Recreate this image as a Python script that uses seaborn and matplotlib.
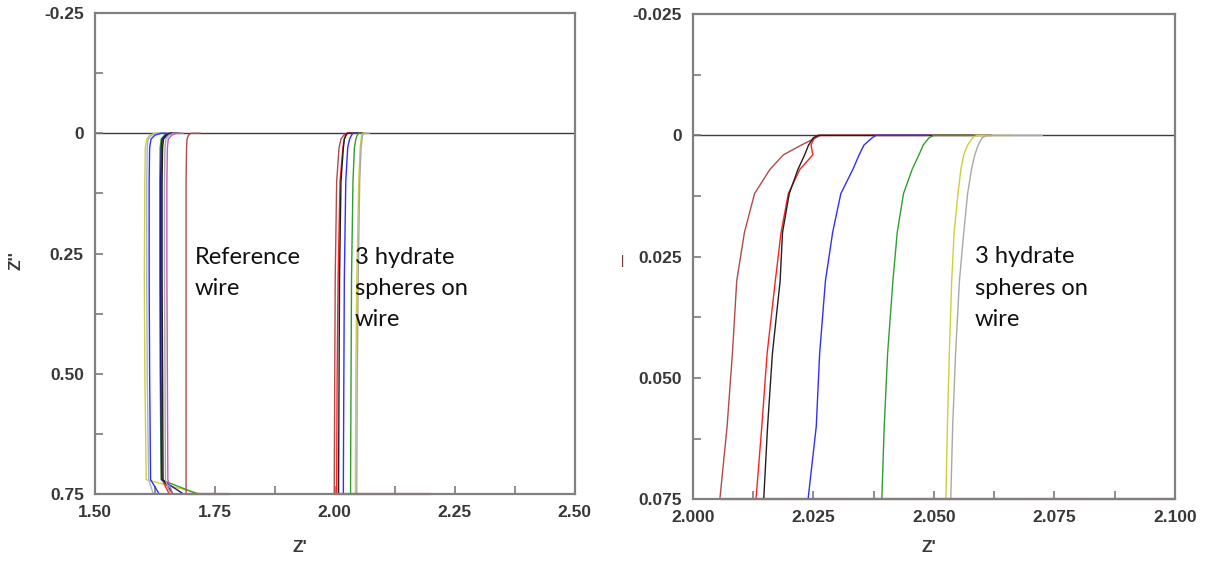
import seaborn as sns
import numpy as np
import pandas as pd
from matplotlib import pyplot as plt
from matplotlib.ticker import MultipleLocator

sns.set_theme(style="white")
plt.rcParams['font.family'] = ['Liberation Sans', 'DejaVu Sans']

# ---- left panel: Nyquist traces, x values at shared y levels ----
left_y = [0.0, 0.0, 0.004, 0.012, 0.03, 0.1, 0.3, 0.5, 0.72, 0.76]

ref_yellow = [1.645, 1.625, 1.614, 1.608, 1.605, 1.604, 1.603, 1.604, 1.607, 1.76]
ref_steel = [1.650, 1.630, 1.618, 1.611, 1.609, 1.608, 1.608, 1.609, 1.612, 1.625]
ref_blue = [1.655, 1.638, 1.625, 1.617, 1.614, 1.613, 1.613, 1.614, 1.616, 1.640]
ref_green = [1.670, 1.655, 1.645, 1.638, 1.636, 1.635, 1.635, 1.636, 1.638, 1.740]
ref_red = [1.675, 1.658, 1.648, 1.641, 1.639, 1.638, 1.638, 1.638, 1.640, 1.660]
ref_navy = [1.672, 1.657, 1.647, 1.640, 1.638, 1.637, 1.637, 1.637, 1.639, 1.700]
ref_black = [1.675, 1.660, 1.650, 1.643, 1.641, 1.640, 1.640, 1.641, 1.642, 1.670]
ref_gray = [1.680, 1.664, 1.654, 1.648, 1.646, 1.645, 1.645, 1.646, 1.647, 1.660]
ref_purple = [1.685, 1.670, 1.660, 1.653, 1.651, 1.650, 1.650, 1.651, 1.652, 1.665]
ref_brown = [1.720, 1.700, 1.695, 1.692, 1.691, 1.690, 1.690, 1.690, 1.690, 1.690]

hyd_brown = [2.060, 2.026, 2.019, 2.013, 2.009, 2.004, 2.001, 2.000, 1.999, 1.999]
hyd_red = [2.060, 2.026, 2.024, 2.020, 2.017, 2.011, 2.007, 2.005, 2.004, 2.004]
hyd_black = [2.058, 2.026, 2.023, 2.020, 2.018, 2.013, 2.010, 2.009, 2.008, 2.008]
hyd_blue = [2.049, 2.038, 2.035, 2.031, 2.027, 2.023, 2.020, 2.019, 2.018, 2.018]
hyd_green = [2.062, 2.050, 2.047, 2.044, 2.041, 2.038, 2.035, 2.034, 2.033, 2.033]
hyd_yellow = [2.066, 2.059, 2.056, 2.055, 2.053, 2.050, 2.046, 2.044, 2.043, 2.043]
hyd_gray = [2.0725, 2.061, 2.058, 2.057, 2.055, 2.052, 2.049, 2.047, 2.046, 2.046]

# traces running along the lower edge
left_tail_brown = [1.690, 1.780]
left_tail_red = [1.999, 2.200]

# ---- right panel: zoom of the hydrate traces ----
right_y = [0.0, 0.0, 0.0005, 0.002, 0.004, 0.007, 0.012, 0.02, 0.03, 0.045, 0.06, 0.075]

z_brown = [2.062, 2.0265, 2.0255, 2.0225, 2.0188, 2.0160, 2.0128, 2.0107, 2.0091, 2.0082, 2.0071, 2.0056]
z_red = [2.062, 2.0260, 2.0252, 2.0245, 2.0249, 2.0222, 2.0198, 2.0183, 2.0171, 2.0154, 2.0143, 2.0131]
z_black = [2.058, 2.0260, 2.0250, 2.0240, 2.0232, 2.0218, 2.0200, 2.0186, 2.0181, 2.0165, 2.0155, 2.0147]
z_blue = [2.049, 2.0380, 2.0372, 2.0355, 2.0345, 2.0332, 2.0307, 2.0290, 2.0275, 2.0263, 2.0256, 2.0239]
z_green = [2.062, 2.0500, 2.0490, 2.0478, 2.0469, 2.0455, 2.0437, 2.0424, 2.0415, 2.0404, 2.0397, 2.0392]
z_yellow = [2.066, 2.0590, 2.0580, 2.0570, 2.0562, 2.0556, 2.0550, 2.0542, 2.0537, 2.0532, 2.0528, 2.0525]
z_gray = [2.0725, 2.0610, 2.0600, 2.0592, 2.0585, 2.0578, 2.0570, 2.0562, 2.0553, 2.0545, 2.0539, 2.0535]
right_tail_brown = [2.0056, 2.100]

left_ticks_y = [-0.25, 0, 0.25, 0.50, 0.75]
left_ticklabels_y = ["-0.25", "0", "0.25", "0.50", "0.75"]
left_ticks_x = [1.50, 1.75, 2.00, 2.25, 2.50]
left_ticklabels_x = ["1.50", "1.75", "2.00", "2.25", "2.50"]
right_ticks_y = [-0.025, 0, 0.025, 0.050, 0.075]
right_ticklabels_y = ["-0.025", "0", "0.025", "0.050", "0.075"]
right_ticks_x = [2.000, 2.025, 2.050, 2.075, 2.100]
right_ticklabels_x = ["2.000", "2.025", "2.050", "2.075", "2.100"]

col = {
    "yellow": "#cfcf3a", "steel": "#a9b3d6", "blue": "#2f2fff", "green": "#2f9f2f",
    "red": "#ff2020", "navy": "#1c1c8c", "black": "#202020", "gray": "#a8a8a8",
    "purple": "#c25ac2", "brown": "#b24a4a",
}


def build(ys, traces):
    rows = []
    for name, (c, xs) in traces.items():
        for x, y in zip(xs, ys):
            rows.append({"x": x, "y": y, "trace": name})
    return pd.DataFrame(rows)


left_traces = {
    "r_yellow": ("yellow", ref_yellow), "r_steel": ("steel", ref_steel),
    "r_blue": ("blue", ref_blue), "r_green": ("green", ref_green),
    "r_red": ("red", ref_red), "r_navy": ("navy", ref_navy),
    "r_black": ("black", ref_black), "r_gray": ("gray", ref_gray),
    "r_purple": ("purple", ref_purple), "r_brown": ("brown", ref_brown),
    "h_brown": ("brown", hyd_brown), "h_red": ("red", hyd_red),
    "h_black": ("black", hyd_black), "h_blue": ("blue", hyd_blue),
    "h_green": ("green", hyd_green), "h_yellow": ("yellow", hyd_yellow),
    "h_gray": ("gray", hyd_gray),
}
right_traces = {
    "z_brown": ("brown", z_brown), "z_red": ("red", z_red),
    "z_black": ("black", z_black), "z_blue": ("blue", z_blue),
    "z_green": ("green", z_green), "z_yellow": ("yellow", z_yellow),
    "z_gray": ("gray", z_gray),
}

fig = plt.figure(figsize=(12.05, 5.64), dpi=100)
ax1 = fig.add_axes([0.0788, 0.124, 0.398, 0.853])
ax2 = fig.add_axes([0.575, 0.115, 0.400, 0.860])


def draw(ax, ys, traces, tails, tail_y):
    df = build(ys, traces)
    pal = {k: col[v[0]] for k, v in traces.items()}
    sns.lineplot(data=df, x="x", y="y", hue="trace", palette=pal, sort=False,
                 estimator=None, units="trace", legend=False, lw=1.0, ax=ax)
    for xs in tails:
        ax.plot(xs, [tail_y] * len(xs), color=col["brown"], lw=1.6, clip_on=False)
    ax.axhline(0, color="#3c3c3c", lw=1.0, zorder=0)


draw(ax1, left_y, left_traces, [left_tail_brown, left_tail_red], 0.75)
draw(ax2, right_y, right_traces, [right_tail_brown], 0.075)

ax1.set_xlim(1.5, 2.5)
ax1.set_ylim(0.75, -0.25)
ax2.set_xlim(2.0, 2.1)
ax2.set_ylim(0.075, -0.025)

for ax, tx, tlx, ty, tly, mx, my in [
    (ax1, left_ticks_x, left_ticklabels_x, left_ticks_y, left_ticklabels_y, 0.125, 0.125),
    (ax2, right_ticks_x, right_ticklabels_x, right_ticks_y, right_ticklabels_y, 0.0125, 0.0125),
]:
    ax.set_xticks(tx)
    ax.set_xticklabels(tlx)
    ax.set_yticks(ty)
    ax.set_yticklabels(tly)
    ax.xaxis.set_minor_locator(MultipleLocator(mx))
    ax.yaxis.set_minor_locator(MultipleLocator(my))
    ax.tick_params(which="both", direction="in", length=6, width=1.2, color="#7a7a7a",
                   bottom=True, left=True, top=False, right=False)
    ax.tick_params(which="major", labelsize=12.5, labelcolor="#383838", pad=8)
    for s in ax.spines.values():
        s.set_color("#808080")
        s.set_linewidth(1.6)
    for lab in ax.get_xticklabels() + ax.get_yticklabels():
        lab.set_fontweight("bold")

lbl = dict(fontsize=12.5, color="#383838", fontweight="bold")
ax1.set_xlabel("Z'", **lbl)
ax1.set_ylabel("Z''", **lbl)
ax1.xaxis.set_label_coords(0.427, -0.095)
ax1.yaxis.set_label_coords(-0.148, 0.486)
ax2.set_xlabel("Z'", **lbl)
ax2.set_ylabel("|", fontsize=9, color="#5a1a1a", rotation=0, va="center")
ax2.xaxis.set_label_coords(0.49, -0.085)
ax2.yaxis.set_label_coords(-0.147, 0.49)

txt = dict(fontsize=17, family=["Lato", "DejaVu Sans"], color="#111111",
           va="top", ha="left", linespacing=1.6)
ax1.text(1.708, 0.236, "Reference\nwire", **txt)
ax1.text(2.042, 0.236, "3 hydrate\nspheres on\nwire", **txt)
ax2.text(2.0585, 0.0229, "3 hydrate\nspheres on\nwire", **txt)

fig.savefig("out.png", dpi=100)
